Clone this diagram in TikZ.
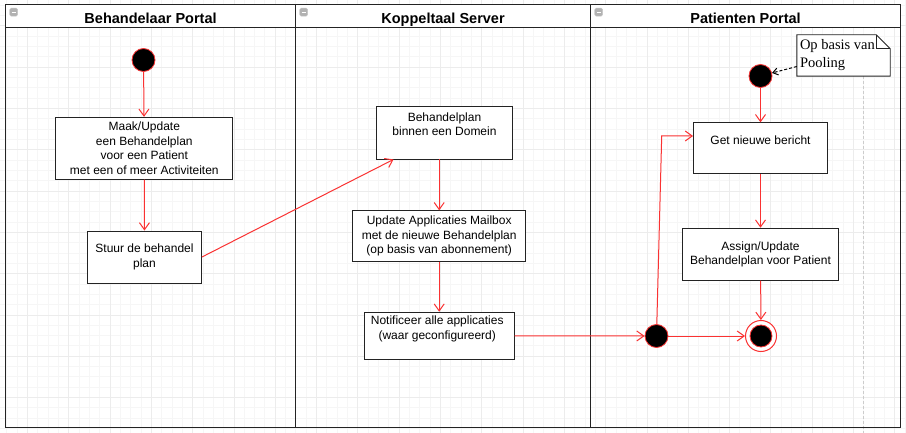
\documentclass[tikz,border=0pt]{standalone}
\usepackage{fontspec}
\setmainfont{Liberation Sans}
\newfontfamily\notefont{Liberation Serif}
\usetikzlibrary{arrows.meta}
\definecolor{flowred}{RGB}{250,50,50}
\definecolor{framegray}{RGB}{35,35,35}
\begin{document}
\begin{tikzpicture}[x=1pt,y=-1pt,
    act/.style={rectangle,draw=framegray,fill=white,line width=0.9pt,align=center,font=\fontsize{12}{14.5}\selectfont},
    toptext/.style={font=\fontsize{12}{14.5}\selectfont,align=center,anchor=north,inner sep=0pt},
    dot/.style={circle,draw=flowred,fill=black,line width=0.8pt,minimum size=23pt,inner sep=0pt},
    endring/.style={circle,draw=flowred,fill=white,line width=1pt,minimum size=31pt,inner sep=0pt},
    flow/.style={draw=flowred,line width=1pt,-{Straight Barb[length=7pt,width=10pt]}},
    pool/.style={draw=black,line width=1pt,dash pattern=on 3pt off 2pt,-{Straight Barb[length=5pt,width=7pt]}},
    lane/.style={rectangle,draw=framegray,line width=1.1pt,anchor=north west,minimum height=423pt,inner sep=0pt},
    head/.style={rectangle,draw=framegray,line width=1.1pt,fill=white,anchor=north west,minimum height=23pt,inner sep=0pt,text height=14pt,text depth=0pt,font=\fontsize{14.5}{16}\bfseries},
    icon/.style={rectangle,rounded corners=1.5pt,fill=gray!60,draw=gray!45,minimum size=8pt,inner sep=0pt,anchor=north west,
      path picture={\draw[white,line width=1.2pt] ([xshift=1.8pt]path picture bounding box.west) -- ([xshift=-1.8pt]path picture bounding box.east);}}]
  \useasboundingbox[fill=white] (0,0) rectangle (906,433);
  % achtergrond raster
  \begin{scope}
    \clip (0,0) rectangle (906,433);
    \draw[gray!7,step=10.325pt,shift={(27.2,25.6)}] (-42,-42) grid (906,460);
    \draw[gray!15,step=41.3pt,shift={(27.2,25.6)}] (-42,-42) grid (906,460);
  \end{scope}
  \draw[gray!40,line width=1pt,dash pattern=on 3pt off 2pt] (863.5,76) -- (863.5,433);
  % swimlanes
  \node[lane,minimum width=290pt] (lane1) at (5,4) {};
  \node[lane,minimum width=295pt] (lane2) at (295,4) {};
  \node[lane,minimum width=310pt] (lane3) at (590,4) {};
  \node[head,minimum width=290pt] (head1) at (lane1.north west) {Behandelaar Portal};
  \node[head,minimum width=295pt] (head2) at (lane2.north west) {Koppeltaal Server};
  \node[head,minimum width=310pt] (head3) at (lane3.north west) {Patienten Portal};
  \node[icon] (icon1) at ([xshift=4.5pt,yshift=-4pt]lane1.north west) {};
  \node[icon] (icon2) at ([xshift=4.5pt,yshift=-4pt]lane2.north west) {};
  \node[icon] (icon3) at ([xshift=4.5pt,yshift=-4pt]lane3.north west) {};
  % Behandelaar Portal
  \node[dot] (begin) at (143.5,60) {};
  \node[act,minimum width=177pt,minimum height=62pt] (maak) at (144.3,148.3) {Maak/Update\\een Behandelplan\\voor een Patient\\met een of meer Activiteiten};
  \node[act,minimum width=114pt,minimum height=52pt] (stuur) at (144.5,257) {Stuur de behandel\\plan};
  % Koppeltaal Server
  \node[act,minimum width=136pt,minimum height=53pt,
    label={[toptext,yshift=-6.7pt]north:{Behandelplan\\binnen een Domein}}] (plan) at (444.5,132.5) {};
  \node[act,minimum width=173pt,minimum height=51pt] (upd) at (439.2,236.3) {Update Applicaties Mailbox\\met de nieuwe Behandelplan\\(op basis van abonnement)};
  \node[act,minimum width=150pt,minimum height=47pt,
    label={[toptext,xshift=-2pt,yshift=-4pt]north:{Notificeer alle applicaties\\(waar geconfigureerd)}}] (notif) at (439.2,335.7) {};
  % Patienten Portal
  \node[rectangle,minimum width=93pt,minimum height=41pt,inner sep=0pt] (note) at (843.5,55.5) {};
  \draw[draw=framegray,fill=white,line width=0.9pt] (note.north west) -- ([xshift=-14pt]note.north east)
    -- ([yshift=-14pt]note.north east) -- (note.south east) -- (note.south west) -- cycle;
  \draw[draw=framegray,line width=0.9pt] ([xshift=-14pt]note.north east) |- ([yshift=-14pt]note.north east);
  \node[anchor=north west,inner sep=0pt,align=left,font=\notefont\fontsize{14.5}{17.5}\selectfont] (notetxt)
    at ([xshift=3pt,yshift=-4.5pt]note.north west) {Op basis van\\Pooling};
  \node[dot] (start2) at (760.5,76) {};
  \node[act,minimum width=134pt,minimum height=51pt,
    label={[toptext,yshift=-13.5pt]north:{Get nieuwe bericht}}] (get) at (760.5,148.3) {};
  \node[act,minimum width=156pt,minimum height=52pt] (assign) at (760.5,254.2) {Assign/Update\\Behandelplan voor Patient};
  \node[dot] (fork) at (656.5,336) {};
  \node[endring] (end) at (761,336) {};
  \node[dot,minimum size=22pt] (endin) at (end) {};
  \coordinate (bend) at (661.7,136);
  % verbindingen
  \draw[flow] (begin) -- (maak);
  \draw[flow] (maak) -- (stuur);
  \draw[flow] (stuur.east) -- ([xshift=-51pt]plan.south);
  \draw[flow] (plan.south -| upd.north) -- (upd);
  \draw[flow] (upd) -- (notif);
  \draw[flow] (notif) -- (fork);
  \draw[flow] (fork) -- (bend) -- (bend -| get.west);
  \draw[flow] (start2) -- (get);
  \draw[flow] (get) -- (assign);
  \draw[flow] (assign) -- (end);
  \draw[flow] (fork) -- (end);
  \draw[pool] ([yshift=-11pt]note.west) -- (start2);
\end{tikzpicture}
\end{document}
